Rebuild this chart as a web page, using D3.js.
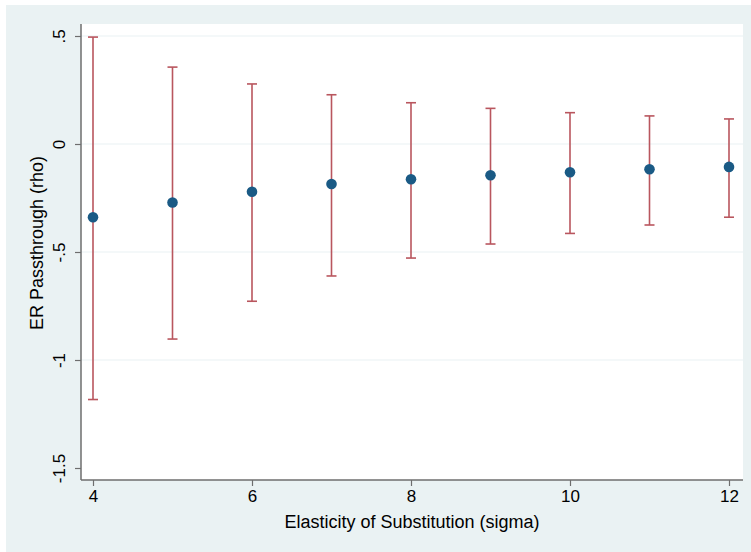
<!DOCTYPE html>
<html lang="en">
<head>
    <meta charset="UTF-8" />
    <title>ER Passthrough by Elasticity of Substitution</title>
    <script src="https://d3js.org/d3.v7.min.js"></script>
    <style>
        body { margin: 0; background: #ffffff; }
        svg { display: block; font-family: "Liberation Sans", Arial, Helvetica, sans-serif; }
    </style>
</head>
<body>
    <script>
        var w = 751;
        var h = 552;

        // Data
        var sigma = [4, 5, 6, 7, 8, 9, 10, 11, 12];
        var rho = [-0.339, -0.271, -0.221, -0.185, -0.163, -0.145, -0.131, -0.117, -0.106];
        var upper = [0.495, 0.356, 0.278, 0.228, 0.191, 0.165, 0.145, 0.130, 0.116];
        var lower = [-1.183, -0.903, -0.728, -0.611, -0.528, -0.463, -0.414, -0.375, -0.339];
        var yTicks = [0.5, 0, -0.5, -1, -1.5];
        var yTickLabels = [".5", "0", "-.5", "-1", "-1.5"];
        var xTicks = [4, 6, 8, 10, 12];
        var gridTicks = [0.5, 0, -0.5, -1];

        var plot = { left: 81, right: 743, top: 24, bottom: 480 };

        var svg = d3.select("body")
            .append("svg")
            .attr("width", w)
            .attr("height", h);

        // outer background
        svg.append("rect")
            .attr("x", 6)
            .attr("y", 5)
            .attr("width", w - 6)
            .attr("height", h - 5)
            .attr("fill", "#eaf2f3");

        // plot region
        svg.append("rect")
            .attr("x", plot.left)
            .attr("y", plot.top)
            .attr("width", plot.right - plot.left)
            .attr("height", plot.bottom - plot.top)
            .attr("fill", "#ffffff");

        // Scales
        var xScale = d3.scaleLinear()
            .domain([4, 12])
            .range([93, 729]);

        var yScale = d3.scaleLinear()
            .domain([-1.5, 0.5])
            .range([468, 36]);

        // grid lines
        svg.selectAll("line.grid")
            .data(gridTicks)
            .enter()
            .append("line")
            .attr("class", "grid")
            .attr("x1", plot.left)
            .attr("x2", plot.right)
            .attr("y1", function(d) { return yScale(d); })
            .attr("y2", function(d) { return yScale(d); })
            .attr("stroke", "#eaf2f3")
            .attr("stroke-width", 1.2);

        // y axis
        var yAxis = d3.axisLeft(yScale)
            .tickValues(yTicks)
            .tickSize(6)
            .tickPadding(0)
            .tickFormat(function(d, i) { return yTickLabels[i]; });

        var gy = svg.append("g")
            .attr("transform", "translate(" + plot.left + ",0)")
            .call(yAxis);
        gy.select(".domain")
            .attr("d", "M0," + plot.top + "V" + plot.bottom)
            .attr("stroke", "#6e6e6e")
            .attr("stroke-width", 1.5);
        gy.selectAll(".tick line")
            .attr("stroke", "#6e6e6e")
            .attr("stroke-width", 1.2);
        gy.selectAll(".tick text")
            .attr("x", 0)
            .attr("dy", 0)
            .attr("transform", "translate(-16,0) rotate(-90)")
            .attr("text-anchor", "middle")
            .attr("font-size", 17)
            .attr("fill", "#000");

        // x axis
        var xAxis = d3.axisBottom(xScale)
            .tickValues(xTicks)
            .tickSize(6)
            .tickPadding(4)
            .tickFormat(d3.format("d"));

        var gx = svg.append("g")
            .attr("transform", "translate(0," + plot.bottom + ")")
            .call(xAxis);
        gx.select(".domain")
            .attr("d", "M" + plot.left + ",0H" + plot.right)
            .attr("stroke", "#6e6e6e")
            .attr("stroke-width", 1.5);
        gx.selectAll(".tick line")
            .attr("stroke", "#6e6e6e")
            .attr("stroke-width", 1.2);
        gx.selectAll(".tick text")
            .attr("font-size", 17)
            .attr("fill", "#000");

        // axis titles
        svg.append("text")
            .attr("x", (plot.left + plot.right) / 2)
            .attr("y", 528)
            .attr("text-anchor", "middle")
            .attr("font-size", 18)
            .attr("fill", "#000")
            .text("Elasticity of Substitution (sigma)");

        svg.append("text")
            .attr("transform", "translate(43,243) rotate(-90)")
            .attr("text-anchor", "middle")
            .attr("font-size", 18)
            .attr("fill", "#000")
            .text("ER Passthrough (rho)");

        // error bars (range with caps)
        var ci = sigma.map(function(s, i) {
            return { s: s, lo: lower[i], hi: upper[i], est: rho[i] };
        });
        var capHalf = 5;
        var barColor = "#b9565e";

        var bars = svg.append("g")
            .selectAll("g")
            .data(ci)
            .enter()
            .append("g");

        bars.append("line")
            .attr("x1", function(d) { return xScale(d.s); })
            .attr("x2", function(d) { return xScale(d.s); })
            .attr("y1", function(d) { return yScale(d.hi); })
            .attr("y2", function(d) { return yScale(d.lo); })
            .attr("stroke", barColor)
            .attr("stroke-width", 1.6);

        bars.append("line")
            .attr("x1", function(d) { return xScale(d.s) - capHalf; })
            .attr("x2", function(d) { return xScale(d.s) + capHalf; })
            .attr("y1", function(d) { return yScale(d.hi); })
            .attr("y2", function(d) { return yScale(d.hi); })
            .attr("stroke", barColor)
            .attr("stroke-width", 1.6);

        bars.append("line")
            .attr("x1", function(d) { return xScale(d.s) - capHalf; })
            .attr("x2", function(d) { return xScale(d.s) + capHalf; })
            .attr("y1", function(d) { return yScale(d.lo); })
            .attr("y2", function(d) { return yScale(d.lo); })
            .attr("stroke", barColor)
            .attr("stroke-width", 1.6);

        // point estimates
        svg.append("g")
            .selectAll("circle")
            .data(ci)
            .enter()
            .append("circle")
            .attr("cx", function(d) { return xScale(d.s); })
            .attr("cy", function(d) { return yScale(d.est); })
            .attr("r", 5.3)
            .attr("fill", "#1a5a85");
    </script>
</body>
</html>
